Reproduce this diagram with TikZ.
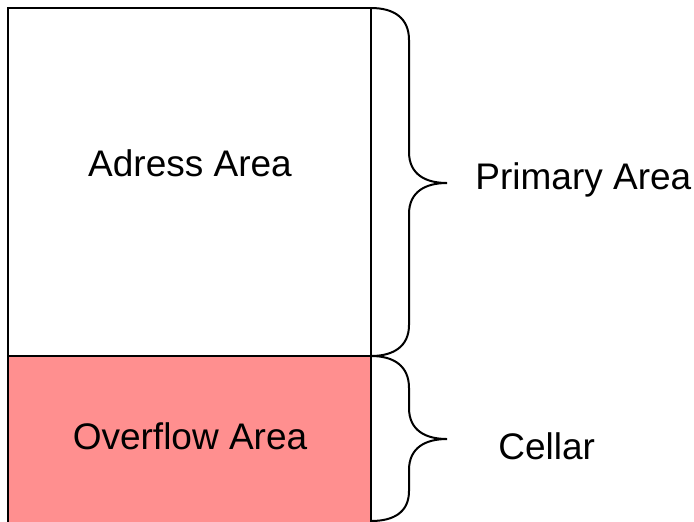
\documentclass[tikz,border=0pt]{standalone}
\usepackage{fontspec}
\setmainfont{Liberation Sans}
\usetikzlibrary{positioning,calc}
\definecolor{ovfpink}{RGB}{255,143,143}
\tikzset{
  area/.style={draw, rectangle, line width=1pt, minimum width=181.5pt, inner sep=0pt, outer sep=0pt},
  lbl/.style={font=\fontsize{18.5}{22}\selectfont, inner sep=0pt},
  brc/.style={draw, line width=1pt},
}
\begin{document}
\begin{tikzpicture}[x=0.5pt, y=-0.5pt]
\useasboundingbox (0,0) rectangle (694,521);
\clip (0,0) rectangle (694,521);

% areas
\node[area, minimum height=174pt, anchor=north west] (addr) at (8,8) {};
\node[area, fill=ovfpink, minimum height=90pt, anchor=north west] (ovf) at (addr.south west) {};

\node[lbl] (addrtxt) at (190,163) {Adress Area};
\node[lbl] (ovftxt) at (190,436) {Overflow Area};

% braces
\draw[brc] (addr.north east) .. controls (394,8) and (409,18) .. (409,40)
  -- (409,152) .. controls (409,174) and (425,183) .. (447,183)
  coordinate (primtip)
  .. controls (425,183) and (409,192) .. (409,214)
  -- (409,325) .. controls (409,346) and (394,356) .. (addr.south east);
\draw[brc] (ovf.north east) .. controls (394,356) and (409,366) .. (409,388)
  -- (409,408) .. controls (409,430) and (425,439) .. (447,439)
  coordinate (celltip)
  .. controls (425,439) and (409,448) .. (409,470)
  -- (409,491) .. controls (409,512) and (394,521) .. (371,521);

\node[lbl, anchor=west] (primtxt) at (475,180) {Primary Area};
\node[lbl, anchor=west] (celltxt) at (498,446) {Cellar};

\end{tikzpicture}
\end{document}
